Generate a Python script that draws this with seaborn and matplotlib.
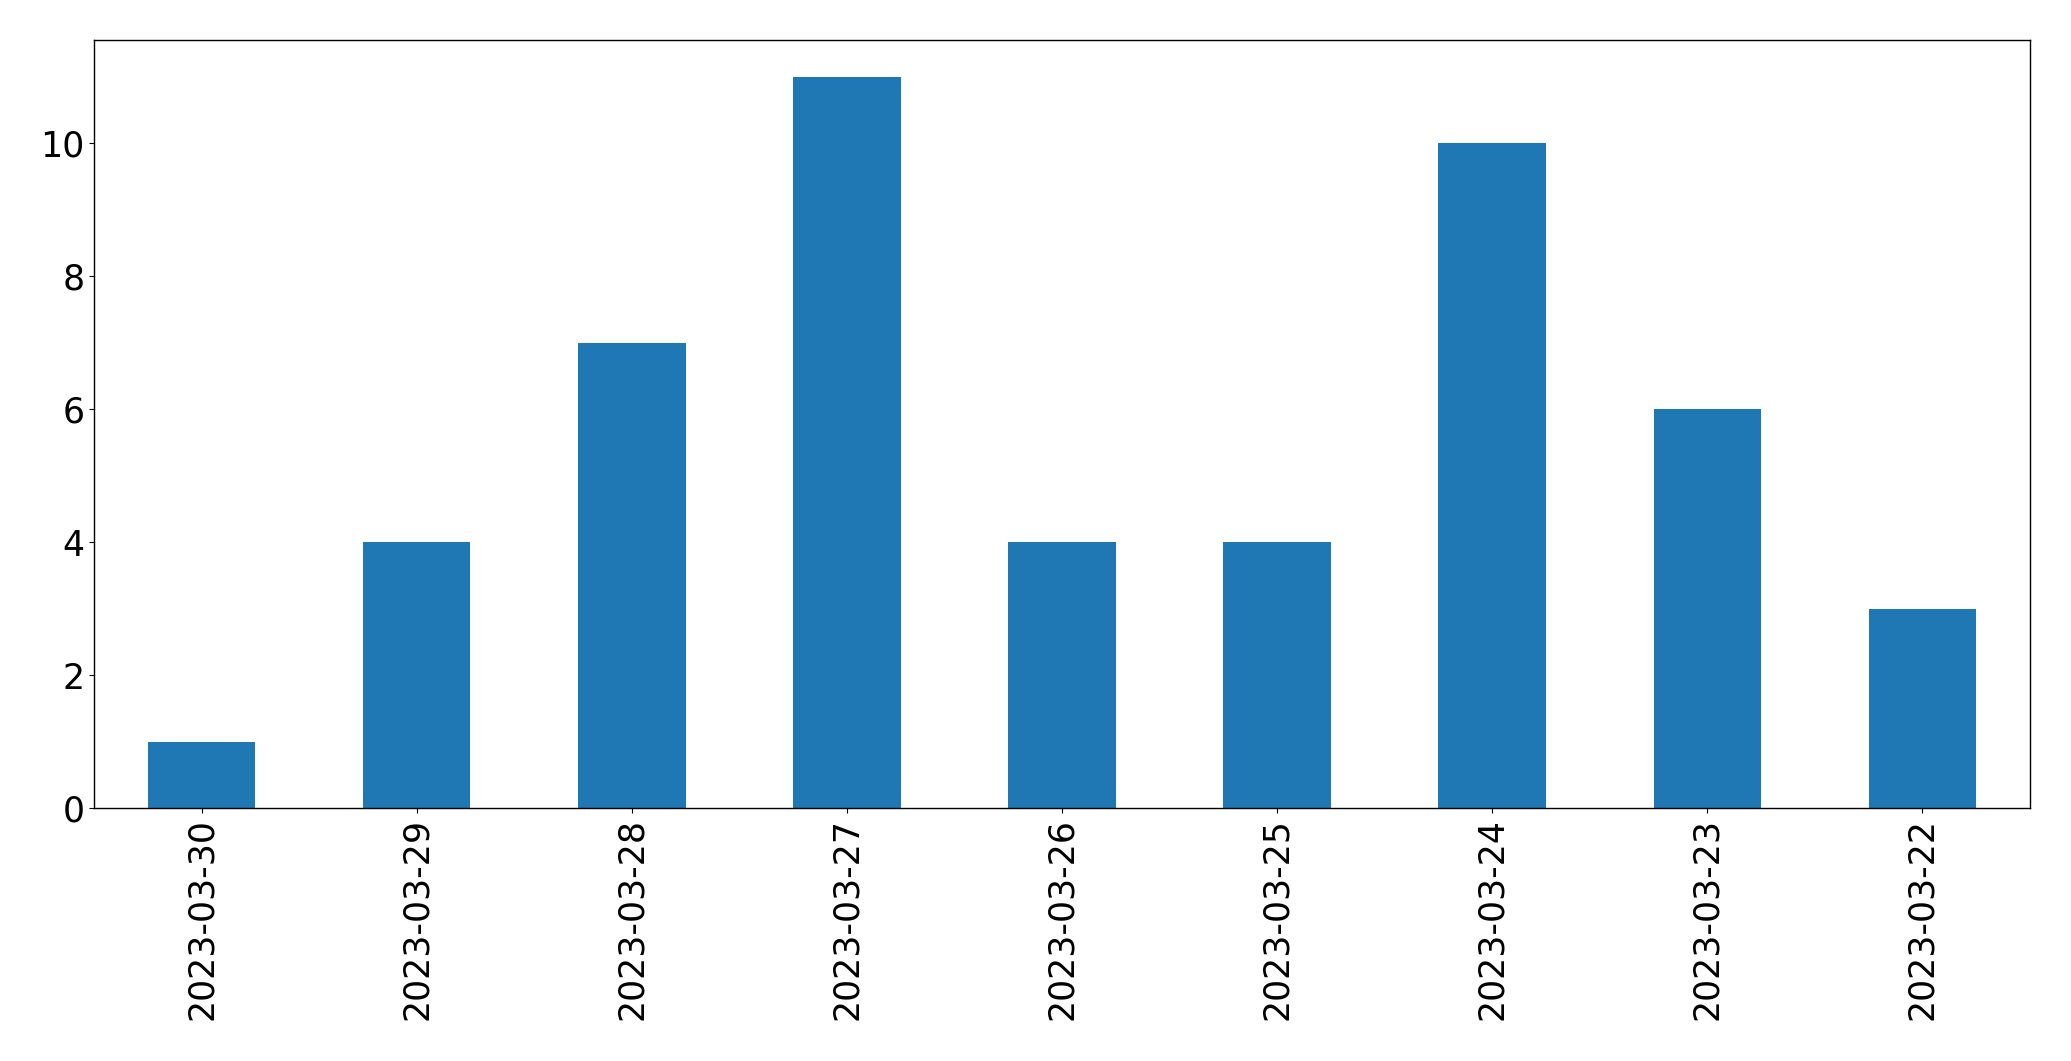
import matplotlib
matplotlib.use("Agg")
import matplotlib.pyplot as plt
import seaborn as sns
import pandas as pd

dates = ["2023-03-30", "2023-03-29", "2023-03-28", "2023-03-27", "2023-03-26",
         "2023-03-25", "2023-03-24", "2023-03-23", "2023-03-22"]
counts = [1, 4, 7, 11, 4, 4, 10, 6, 3]

df = pd.DataFrame({"date": dates, "count": counts})

fig, ax = plt.subplots(figsize=(20.71, 10.61), dpi=100)
fig.subplots_adjust(left=94/2071, right=2030/2071, top=1-40/1061, bottom=1-808/1061)

sns.barplot(data=df, x="date", y="count", order=dates, color="#1f77b4",
            saturation=1, width=0.5, ax=ax, errorbar=None, linewidth=0,
            edgecolor="none")
ax.set_xlim(-0.5, len(dates) - 0.5)
ax.set_ylim(0, max(counts) * 1.05)
ax.set_xlabel("")
ax.set_ylabel("")
ax.tick_params(axis="both", labelsize=25, length=3.5, width=0.8, colors="black")
plt.setp(ax.get_xticklabels(), rotation=90)
for s in ax.spines.values():
    s.set_linewidth(1.0)
    s.set_color("black")

fig.savefig("out.png", dpi=100)
